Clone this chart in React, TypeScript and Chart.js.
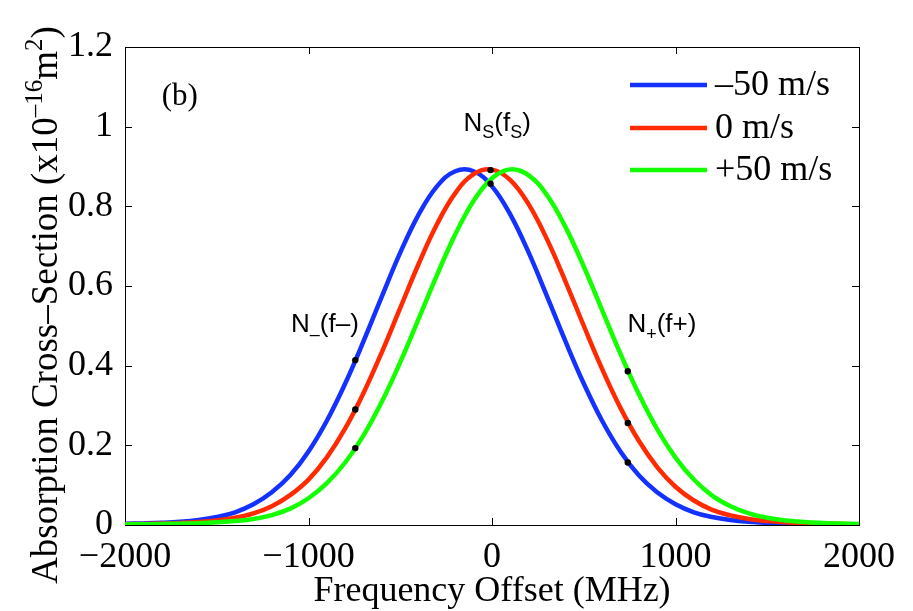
import React, { useEffect, useRef } from "react";
import { Chart, registerables } from "chart.js";

Chart.register(...registerables);

// ---------------- data ----------------
const freqMHz = [
  -2000, -1900, -1800, -1700, -1600, -1500, -1400, -1300, -1200, -1100, -1000,
  -900, -800, -700, -600, -500, -400, -300, -200, -100, 0, 100, 200, 300, 400,
  500, 600, 700, 800, 900, 1000, 1100, 1200, 1300, 1400, 1500, 1600, 1700, 1800,
  1900, 2000,
];

const crossMinus50 = [
  0.003, 0.004, 0.0055, 0.008, 0.0125, 0.02, 0.032, 0.052, 0.082, 0.1246,
  0.1846, 0.2617, 0.3552, 0.4615, 0.5741, 0.6836, 0.7792, 0.8502, 0.8881, 0.8881,
  0.8502, 0.7792, 0.6836, 0.5741, 0.4615, 0.3552, 0.2617, 0.1846, 0.1246, 0.082,
  0.052, 0.032, 0.02, 0.0125, 0.008, 0.0055, 0.004, 0.003, 0.0022, 0.0017,
  0.0013,
];

const crossZero = [
  0.0021, 0.0028, 0.0038, 0.0052, 0.0075, 0.0115, 0.018, 0.029, 0.047, 0.075,
  0.114, 0.1698, 0.2424, 0.3315, 0.4342, 0.545, 0.6553, 0.7549, 0.8331, 0.8808,
  0.8922, 0.8659, 0.805, 0.717, 0.6119, 0.5002, 0.3918, 0.294, 0.2114, 0.1455,
  0.096, 0.0615, 0.038, 0.024, 0.015, 0.0098, 0.0066, 0.0046, 0.0034, 0.0025,
  0.0019,
];

const crossPlus50 = [
  0.0015, 0.0019, 0.0025, 0.0034, 0.0046, 0.0066, 0.0098, 0.015, 0.025, 0.041,
  0.0672, 0.1049, 0.1569, 0.2252, 0.3099, 0.4088, 0.5172, 0.6275, 0.7298, 0.814,
  0.8706, 0.8928, 0.8779, 0.8278, 0.7485, 0.6489, 0.5394, 0.43, 0.3286, 0.2409,
  0.1693, 0.1141, 0.0737, 0.047, 0.029, 0.018, 0.0115, 0.0075, 0.0052, 0.0038,
  0.0028,
];

const seriesLabels = ["\u201350 m/s", "0 m/s", "+50 m/s"];
const seriesColors = ["#1432ff", "#ff2a00", "#14ff00"];

// marked sample points (black dots)
const dotFreq = [-745, -745, -745, 740, 740, 740, -8, -8];
const dotCross = [0.414, 0.29, 0.193, 0.386, 0.256, 0.157, 0.891, 0.857];

const xTickValues = [-2000, -1000, 0, 1000, 2000];
const yTickValues = [0, 0.2, 0.4, 0.6, 0.8, 1, 1.2];

const xTitle = "Frequency Offset (MHz)";
const panelLabel = "(b)";

// ---------------- styling ----------------
const SERIF = "'Liberation Serif', 'Times New Roman', Times, serif";
const SANS = "'Liberation Sans', Arial, Helvetica, sans-serif";
const W = 913;
const H = 611;

type Seg = { t: string; size: number; dy?: number; family?: string };

function segWidth(ctx: CanvasRenderingContext2D, segs: Seg[]) {
  let w = 0;
  for (const s of segs) {
    ctx.font = `${s.size}px ${s.family || SERIF}`;
    w += ctx.measureText(s.t).width;
  }
  return w;
}

function drawSegs(ctx: CanvasRenderingContext2D, segs: Seg[], x: number, y: number) {
  let cx = x;
  for (const s of segs) {
    ctx.font = `${s.size}px ${s.family || SERIF}`;
    ctx.fillText(s.t, cx, y + (s.dy || 0));
    cx += ctx.measureText(s.t).width;
  }
}

const framePlugin = {
  id: "frameTicks",
  beforeDatasetsDraw(chart: any) {
    const { ctx, chartArea: a, scales } = chart;
    const xs = scales.x;
    const ys = scales.y;
    ctx.save();
    ctx.strokeStyle = "#000";
    ctx.lineWidth = 1;
    ctx.strokeRect(Math.round(a.left) + 0.5, Math.round(a.top) + 0.5, Math.round(a.right - a.left), Math.round(a.bottom - a.top));
    const tl = 7;
    ctx.beginPath();
    for (const v of xTickValues) {
      const px = Math.round(xs.getPixelForValue(v)) + 0.5;
      ctx.moveTo(px, a.bottom);
      ctx.lineTo(px, a.bottom - tl);
      ctx.moveTo(px, a.top);
      ctx.lineTo(px, a.top + tl);
    }
    for (const v of yTickValues) {
      const py = Math.round(ys.getPixelForValue(v)) + 0.5;
      ctx.moveTo(a.left, py);
      ctx.lineTo(a.left + tl, py);
      ctx.moveTo(a.right, py);
      ctx.lineTo(a.right - tl, py);
    }
    ctx.stroke();
    ctx.restore();
  },
};

const textPlugin = {
  id: "texts",
  afterDatasetsDraw(chart: any) {
    const { ctx, chartArea: a, scales } = chart;
    const xs = scales.x;
    const ys = scales.y;
    ctx.save();
    ctx.fillStyle = "#000";
    ctx.textBaseline = "alphabetic";
    ctx.textAlign = "left";

    // panel label
    ctx.font = `31px ${SERIF}`;
    ctx.fillText(panelLabel, xs.getPixelForValue(-1800), ys.getPixelForValue(1.055));

    // annotations
    const big = 26;
    const sub = 18;
    drawSegs(
      ctx,
      [
        { t: "N", size: big, family: SANS },
        { t: "S", size: sub, dy: 7, family: SANS },
        { t: "(f", size: big, family: SANS },
        { t: "S", size: sub, dy: 7, family: SANS },
        { t: ")", size: big, family: SANS },
      ],
      xs.getPixelForValue(-155),
      ys.getPixelForValue(0.99)
    );
    drawSegs(
      ctx,
      [
        { t: "N", size: big, family: SANS },
        { t: "\u2013", size: sub, dy: 8, family: SANS },
        { t: "(f\u2013)", size: big, family: SANS },
      ],
      xs.getPixelForValue(-1095),
      ys.getPixelForValue(0.485)
    );
    drawSegs(
      ctx,
      [
        { t: "N", size: big, family: SANS },
        { t: "+", size: sub, dy: 8, family: SANS },
        { t: "(f+)", size: big, family: SANS },
      ],
      xs.getPixelForValue(738),
      ys.getPixelForValue(0.485)
    );

    // legend
    const lx = a.right - 229;
    const rows = [a.top + 38, a.top + 81, a.top + 123];
    for (let i = 0; i < 3; i++) {
      ctx.strokeStyle = seriesColors[i];
      ctx.lineWidth = 4.5;
      ctx.beginPath();
      ctx.moveTo(lx, rows[i]);
      ctx.lineTo(lx + 77, rows[i]);
      ctx.stroke();
      ctx.font = `36px ${SERIF}`;
      ctx.textBaseline = "middle";
      ctx.fillText(seriesLabels[i], lx + 85, rows[i] + 1);
    }

    // x title
    ctx.textBaseline = "alphabetic";
    ctx.textAlign = "center";
    ctx.font = `36px ${SERIF}`;
    ctx.fillText(xTitle, (a.left + a.right) / 2, 601);

    // y title (rotated, with superscripts)
    ctx.textAlign = "left";
    const yt: Seg[] = [
      { t: "Absorption Cross\u2013Section (x10", size: 37 },
      { t: "\u201316", size: 25, dy: -15 },
      { t: "m", size: 37 },
      { t: "2", size: 25, dy: -15 },
      { t: ")", size: 37 },
    ];
    const w = segWidth(ctx, yt);
    ctx.translate(57, 305);
    ctx.rotate(-Math.PI / 2);
    drawSegs(ctx, yt, -w / 2, 0);
    ctx.restore();
  },
};

function fmtX(v: number) {
  if (v < 0) return "\u2212" + Math.abs(v);
  return String(v);
}
function fmtY(v: number) {
  return String(Math.round(v * 10) / 10);
}

export default function App() {
  const ref = useRef<HTMLCanvasElement | null>(null);

  useEffect(() => {
    if (!ref.current) return;
    const mk = (vals: number[]) => freqMHz.map((x, i) => ({ x, y: vals[i] }));
    const series = [crossMinus50, crossZero, crossPlus50];
    const datasets: any[] = series.map((vals, i) => ({
      label: seriesLabels[i],
      data: mk(vals),
      borderColor: seriesColors[i],
      backgroundColor: seriesColors[i],
      borderWidth: 4.5,
      pointRadius: 0,
      tension: 0.4,
      fill: false,
      order: 3 - i,
    }));
    datasets.push({
      label: "marks",
      data: dotFreq.map((x, i) => ({ x, y: dotCross[i] })),
      showLine: false,
      pointRadius: 3.2,
      pointBackgroundColor: "#000",
      pointBorderWidth: 0,
      borderColor: "#000",
      order: 0,
    });

    const chart = new Chart(ref.current, {
      type: "line",
      data: { datasets },
      options: {
        responsive: false,
        animation: false,
        devicePixelRatio: 1,
        layout: { padding: { top: 47, right: 54, left: 0, bottom: 0 } },
        plugins: { legend: { display: false }, tooltip: { enabled: false }, title: { display: false } },
        scales: {
          x: {
            type: "linear",
            min: -2000,
            max: 2000,
            afterBuildTicks: (s: any) => {
              s.ticks = xTickValues.map((v) => ({ value: v }));
            },
            afterFit: (s: any) => {
              s.height = 86;
            },
            grid: { display: false, drawTicks: false },
            border: { display: false },
            ticks: {
              autoSkip: false,
              maxRotation: 0,
              padding: 11,
              color: "#000",
              font: { family: SERIF, size: 36 },
              callback: (v: any) => fmtX(Number(v)),
            },
          },
          y: {
            type: "linear",
            min: 0,
            max: 1.2,
            afterBuildTicks: (s: any) => {
              s.ticks = yTickValues.map((v) => ({ value: v }));
            },
            afterFit: (s: any) => {
              s.width = 125;
            },
            grid: { display: false, drawTicks: false },
            border: { display: false },
            ticks: {
              padding: 12,
              color: "#000",
              font: { family: SERIF, size: 36 },
              callback: (v: any) => fmtY(Number(v)),
            },
          },
        },
      },
      plugins: [framePlugin, textPlugin],
    });
    return () => chart.destroy();
  }, []);

  return (
    <div style={{ position: "fixed", left: 0, top: 0, width: W, height: H, background: "#fff" }}>
      <canvas ref={ref} width={W} height={H} style={{ width: W, height: H, display: "block" }} />
    </div>
  );
}
